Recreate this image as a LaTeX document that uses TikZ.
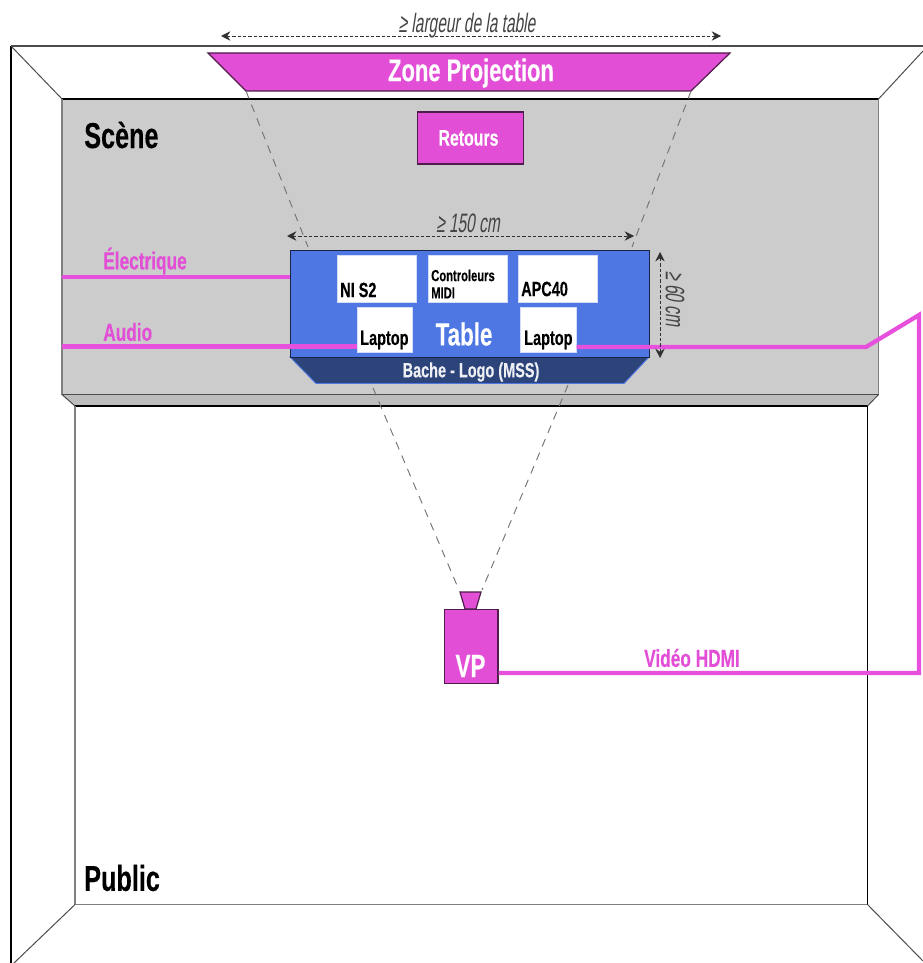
\documentclass[tikz,border=0pt]{standalone}
\usepackage{fontspec}
\setmainfont{Liberation Sans}
\newfontfamily\condb[FakeStretch=0.7,FakeBold=0.25]{Liberation Sans Bold}
\newfontfamily\condi[FakeStretch=0.58,FakeSlant=0.15]{Liberation Sans}
\usetikzlibrary{arrows.meta}
\definecolor{mag}{HTML}{E24FD6}
\definecolor{magline}{HTML}{E650DC}
\definecolor{stage}{HTML}{CCCCCC}
\definecolor{strip}{HTML}{BDBDBD}
\definecolor{tbl}{HTML}{4E77E4}
\definecolor{bache}{HTML}{2C4479}
\definecolor{dim}{HTML}{444444}
\tikzset{
  x=0.75pt,y=-0.75pt,
  wall/.style={draw=black!70,line width=0.75pt},
  magbox/.style={fill=mag,draw=black!65!mag,line width=0.9pt},
  whitebox/.style={fill=white,draw=white!75!tbl,line width=0.5pt,inner sep=0pt,minimum width=#1,minimum height=35pt,rectangle},
  lapbox/.style={fill=white,draw=white!75!tbl,line width=0.5pt,inner sep=0pt,minimum width=#1,minimum height=34pt,rectangle},
  cable/.style={draw=magline,line width=3.2pt,line join=miter},
  beam/.style={draw=black!55,line width=0.7pt,dash pattern=on 6pt off 5pt},
  dimline/.style={draw=dim!70!black,line width=0.6pt,dash pattern=on 2.4pt off 1.6pt,{Stealth[length=7pt,width=7pt]}-{Stealth[length=7pt,width=7pt]}},
  dimlabel/.style={text=dim,font=\condi\fontsize{20}{20}\selectfont,inner sep=0pt},
  bigl/.style={font=\condb\fontsize{27}{27}\selectfont,inner sep=0pt,anchor=west},
  cablel/.style={text=mag,font=\condb\fontsize{18.5}{19}\selectfont,inner sep=0pt},
  boxl/.style={font=\condb\fontsize{15.5}{16}\selectfont,inner sep=0pt,anchor=west},
}
\begin{document}
\begin{tikzpicture}
\useasboundingbox (0,0) rectangle (923,963);
% walls
\draw[black,line width=1.7pt] (11,963) -- (11,46);
\draw[black!70,line width=1.7pt] (11,46) -- (923,46);
\coordinate (tl) at (11,46);
\coordinate (tr) at (923,51);
\coordinate (bl) at (14,963);
\coordinate (br) at (923,961);
% stage
\path[fill=strip] (62,394) -- (878,394) -- (867,406) -- (75,406) -- cycle;
\node[rectangle,fill=stage,minimum width=612pt,minimum height=221.25pt,inner sep=0pt,anchor=north west] (stage) at (62,99) {};
\draw[black,line width=0.9pt] (stage.north west) -- (stage.north east);
\draw[black!50,line width=1.2pt] (stage.north west) -- (stage.south west);
\draw[black!50,line width=1.2pt] (stage.north east) -- (stage.south east);
\draw[black!70,line width=1.3pt] (stage.south west) -- (stage.south east);
\node[rectangle,minimum width=594pt,minimum height=373.5pt,inner sep=0pt,anchor=north west] (pub) at (75,406) {};
\draw[black,line width=0.8pt] (pub.north west) -- (pub.north east);
\draw[black!50,line width=0.9pt] (pub.north west) -- (pub.south west) -- (pub.south east);
\draw[black,line width=0.8pt] (pub.north east) -- (pub.south east);
\draw[wall] (stage.south west) -- (pub.north west);
\draw[wall] (stage.south east) -- (pub.north east);
\draw[wall] (tl) -- (stage.north west);
\draw[wall] (tr) -- (stage.north east);
\draw[wall] (bl) -- (pub.south west);
\draw[wall] (br) -- (pub.south east);
\node[bigl] (scene) at (84,135) {Scène};
\node[bigl] (public) at (84,878) {Public};
% projection zone
\draw[magbox] (208,53) -- (730,53) -- (691,91) -- (246,91) -- cycle;
\coordinate (zl) at (246,91);
\coordinate (zr) at (691,91);
\node[text=white,font=\condb\fontsize{23.5}{24}\selectfont,inner sep=0pt] (zone) at (471,73) {Zone Projection};
\node[magbox,rectangle,minimum width=80pt,minimum height=39pt,inner sep=0pt,text=white,font=\condb\fontsize{17}{18}\selectfont] (retours) at (470.5,138) {\kern-3pt Retours};
% table
\path[fill=bache,draw=tbl,line width=0.7pt] (290,357) -- (649,357) -- (624,383.5) -- (316,383.5) -- cycle;
\node[text=white!92!bache,font=\condb\fontsize{15.5}{16}\selectfont,inner sep=0pt] (bachel) at (471,372) {Bache - Logo (MSS)};
\node[rectangle,fill=tbl,draw=black!70!tbl,line width=0.9pt,minimum width=269pt,minimum height=80pt,inner sep=0pt,anchor=north west] (table) at (290,250) {};
\node[text=white,font=\condb\fontsize{24}{24}\selectfont,inner sep=0pt] (tablel) at (464,334) {Table};
\node[whitebox=59.5pt,anchor=north west] (ni) at (337,255) {};
\node[boxl] at (340,290) (nil) {NI S2};
\node[whitebox=59.5pt,anchor=north west] (midi) at (428,255) {};
\node[font=\condb\fontsize{12}{13}\selectfont,align=left,inner sep=0pt,anchor=west] (midil) at (431,284) {Controleurs\\MIDI};
\node[whitebox=59.5pt,anchor=north west] (apc) at (518,255) {};
\node[boxl] at (521,289) (apcl) {APC40};
\node[lapbox=41pt,anchor=north west] (lap1) at (357,307) {};
\node[boxl] at (360,340) (lap1l) {Laptop};
\node[lapbox=42pt,anchor=north west] (lap2) at (520,307) {};
\node[boxl] at (524,340) (lap2l) {Laptop};
% VP
\node[magbox,rectangle,minimum width=40pt,minimum height=55.5pt,inner sep=0pt,anchor=north west] (vp) at (444,609) {};
\node[text=white,font=\condb\fontsize{24}{24}\selectfont,inner sep=0pt] (vpl) at (470.5,666) {VP};
\draw[magbox] (460,592) -- (481,592) -- (476,609) -- (465,609) -- cycle;
\coordinate (lensl) at (459,590);
\coordinate (lensr) at (482,590);
% beams
\coordinate (tbl1) at (308,247);
\coordinate (tbr1) at (632,247);
\coordinate (bchl) at (373,388);
\coordinate (bchr) at (568,385);
\draw[beam] (zl) -- (tbl1);
\draw[beam] (zr) -- (tbr1);
\draw[beam] (bchl) -- (lensl);
\draw[beam] (bchr) -- (lensr);
% cables
\coordinate (elec) at (62,277);
\coordinate (aud) at (62,346.5);
\coordinate (bend) at (866,347);
\coordinate (c1) at (919,315);
\coordinate (c2) at (919,673);
\draw[cable] (elec) -- (elec -| table.west);
\draw[cable] (aud) -- (aud -| lap1.west);
\draw[cable] (lap2.east |- bend) -- (bend) -- (c1) -- (c2) -- (c2 -| vp.east);
\node[cablel,anchor=west] (elecl) at (103,261) {Électrique};
\node[cablel,anchor=west] (audl) at (103,332) {Audio};
\node[cablel] (hdmil) at (692,658) {Vidéo HDMI};
% dimensions
\coordinate (d1a) at (221,36);
\coordinate (d1b) at (721,36);
\coordinate (d2a) at (287,236);
\coordinate (d2b) at (634,236);
\coordinate (d3a) at (660,252);
\coordinate (d3b) at (660,358);
\draw[dimline] (d1a) -- (d1b);
\draw[dimline] (d2a) -- (d2b);
\draw[dimline] (d3a) -- (d3b);
\node[dimlabel] (dl1) at (467,25.5) {≥ largeur de la table};
\node[dimlabel] (dl2) at (468,223) {≥ 150 cm};
\node[dimlabel,rotate=-90] (dl3) at (675,299) {≥ 60 cm};
\end{tikzpicture}
\end{document}
